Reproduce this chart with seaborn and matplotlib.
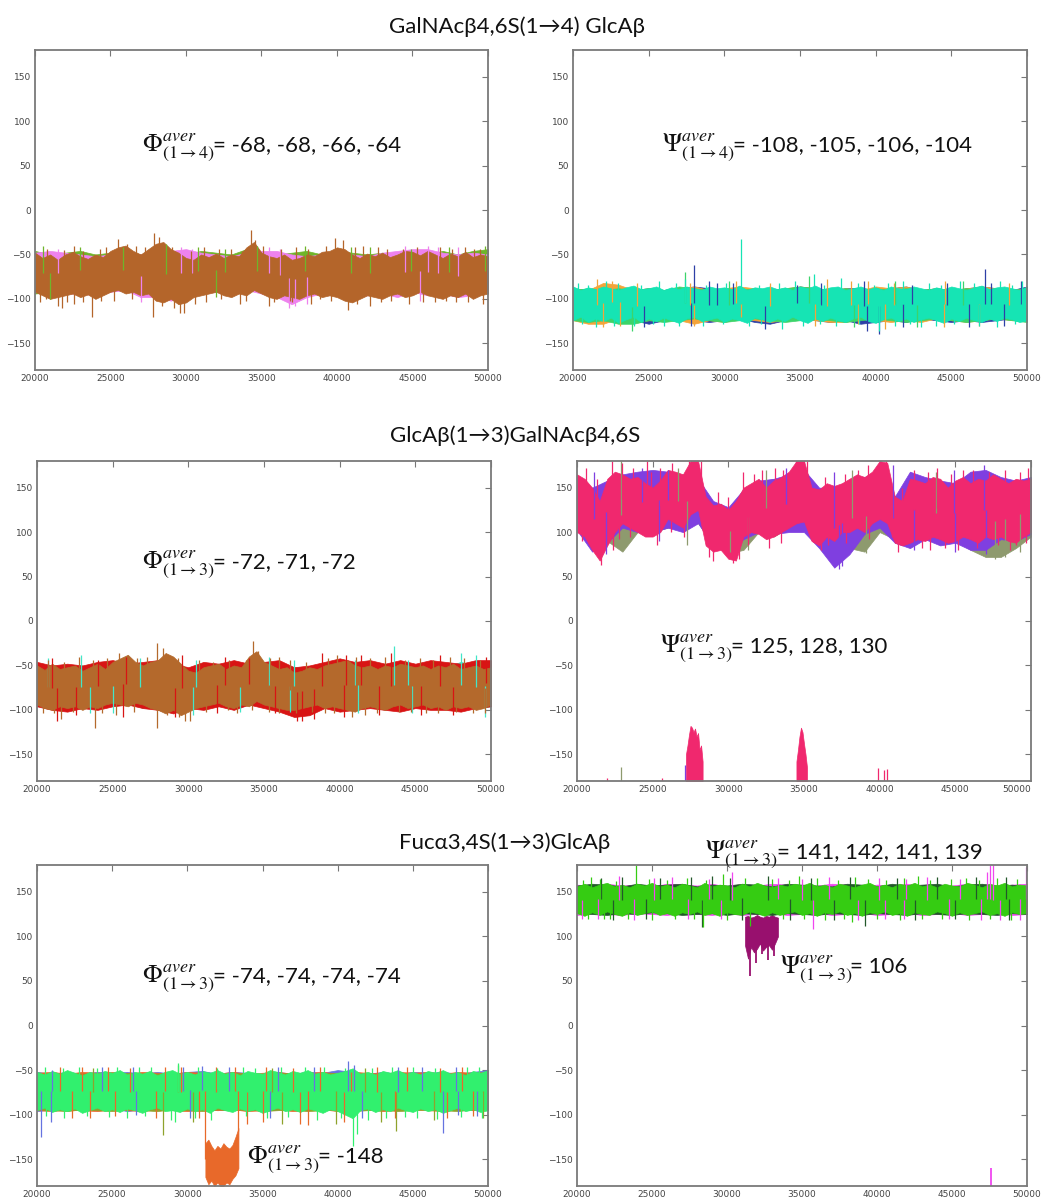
import numpy as np
import pandas as pd
import matplotlib
matplotlib.use("Agg")
import matplotlib.pyplot as plt
import seaborn as sns

# ---------------- data (dihedral angle in degrees vs. time step) ----------------
# coarse grid (under-lying trajectories)
T = [20000, 21000, 22000, 23000, 24000, 25000, 26000, 27000, 28000, 29000, 30000,
     31000, 32000, 33000, 34000, 35000, 36000, 37000, 38000, 39000, 40000,
     41000, 42000, 43000, 44000, 45000, 46000, 47000, 48000, 49000, 50000]
# fine grid (front trajectories)
T2 = [20000, 20500, 21000, 21500, 22000, 22500, 23000, 23500, 24000, 24500,
      25000, 25500, 26000, 26500, 27000, 27500, 28000, 28500, 29000, 29500,
      30000, 30500, 31000, 31500, 32000, 32500, 33000, 33500, 34000, 34500,
      35000, 35500, 36000, 36500, 37000, 37500, 38000, 38500, 39000, 39500,
      40000, 40500, 41000, 41500, 42000, 42500, 43000, 43500, 44000, 44500,
      45000, 45500, 46000, 46500, 47000, 47500, 48000, 48500, 49000, 49500, 50000]
XTICKS = [20000, 25000, 30000, 35000, 40000, 45000, 50000]
YTICKS = [-150, -100, -50, 0, 50, 100, 150]

TITLES = ["GalNAcβ4,6S(1→4) GlcAβ", "GlcAβ(1→3)GalNAcβ4,6S", "Fucα3,4S(1→3)GlcAβ"]
MATH = [r"$\Phi^{aver}_{(1\rightarrow4)}$", r"$\Psi^{aver}_{(1\rightarrow4)}$",
        r"$\Phi^{aver}_{(1\rightarrow3)}$", r"$\Psi^{aver}_{(1\rightarrow3)}$",
        r"$\Phi^{aver}_{(1\rightarrow3)}$", r"$\Phi^{aver}_{(1\rightarrow3)}$",
        r"$\Psi^{aver}_{(1\rightarrow3)}$", r"$\Psi^{aver}_{(1\rightarrow3)}$"]
VALUES = ["= -68, -68, -66, -64", "= -108, -105, -106, -104", "= -72, -71, -72",
          "= 125, 128, 130", "= -74, -74, -74, -74", "= -148",
          "= 141, 142, 141, 139", "= 106"]

# ---- panel 1 : Phi(1->4)
p1_violet_hi = [-48, -46, -48, -50, -52, -50, -48, -50, -46, -46, -44, -48, -50, -52, -48, -46, -46, -50, -52, -50, -48, -50, -52, -48, -46, -44, -44, -48, -50, -48, -50]
p1_violet_lo = [-92, -96, -94, -94, -96, -92, -90, -98, -98, -102, -96, -94, -92, -96, -90, -94, -98, -106, -98, -94, -94, -98, -96, -94, -98, -92, -96, -94, -98, -96, -92]
p1_green_hi = [-46, -50, -48, -46, -50, -48, -46, -50, -44, -50, -50, -46, -48, -50, -44, -48, -50, -48, -46, -50, -46, -48, -50, -48, -50, -48, -50, -46, -50, -46, -44]
p1_green_lo = [-94, -92, -92, -90, -92, -88, -88, -90, -94, -98, -92, -90, -88, -92, -88, -90, -92, -92, -90, -88, -90, -94, -92, -90, -94, -88, -92, -90, -94, -92, -94]
p1_brown_hi = [-48, -54, -50, -56, -50, -47, -52, -55, -50, -53,
               -46, -42, -40, -46, -50, -44, -38, -36, -44, -48,
               -54, -56, -50, -53, -49, -54, -50, -52, -42, -36,
               -48, -52, -54, -50, -56, -54, -50, -52, -47, -46,
               -42, -44, -50, -54, -49, -52, -48, -53, -50, -46,
               -47, -51, -46, -50, -54, -49, -52, -47, -53, -50, -52]
p1_brown_lo = [-92, -96, -100, -98, -96, -94, -98, -95, -100, -96,
               -92, -90, -94, -92, -96, -94, -102, -104, -100, -106,
               -104, -98, -96, -94, -92, -96, -98, -94, -96, -90,
               -94, -98, -100, -96, -98, -100, -96, -94, -98, -96,
               -98, -102, -104, -100, -96, -98, -100, -96, -94, -98,
               -96, -92, -96, -98, -100, -96, -98, -94, -100, -96, -94]
p1_violet_sx = [21500, 29700, 30400, 35500, 36200, 44500, 46000, 46700, 48000, 27000, 36800, 37200, 38000, 45500]
p1_violet_sy = [-44, -42, -44, -42, -44, -40, -40, -42, -42, -104, -110, -108, -106, -102]
p1_green_sx = [20500, 23000, 25800, 28700, 30800, 32600, 34700, 37900, 40900, 42200, 44900, 47400, 49800, 21000, 32000]
p1_green_sy = [-40, -42, -42, -38, -42, -44, -40, -40, -42, -42, -44, -42, -40, -100, -98]
p1_brown_sx = [22600, 24700, 25500, 26100, 27900, 28200, 31200, 33000, 34300, 34600, 37300, 39900, 40400, 42700, 44400, 46800, 49100,
               20800, 21900, 23200, 24300, 26700, 27300, 29100, 30300, 32200, 33700, 35100, 36300, 38100, 39300, 41200, 41700, 43300, 45300, 47600, 48500, 49500,
               20300, 21500, 21800, 22600, 23800, 25200, 27800, 29600, 29900, 31300, 33600, 35500, 37000, 38300, 40700, 42900, 44800, 46500, 47900, 49700,
               20700, 22100, 23200, 24400, 26400, 28400, 29200, 30600, 32300, 34000, 35800, 36900, 38900, 39600, 41300, 42200, 43600, 45700, 47200, 48700, 50000]
p1_brown_sy = [-40, -42, -33, -38, -26, -30, -42, -44, -22, -34, -42, -32, -34, -42, -44, -42, -44,
               -44, -45, -46, -44, -40, -42, -42, -46, -44, -46, -40, -44, -44, -40, -42, -40, -44, -42, -44, -42, -44,
               -104, -108, -110, -106, -120, -102, -120, -116, -116, -104, -106, -108, -104, -106, -112, -104, -106, -104, -104, -106,
               -100, -104, -104, -102, -100, -108, -110, -106, -100, -102, -104, -102, -100, -102, -106, -108, -102, -104, -102, -104, -100]

# ---- panel 2 : Psi(1->4)
p2_navy_hi = [-88, -90, -88, -86, -90, -88, -90, -88, -86, -88, -90, -88, -90, -88, -90, -86, -88, -90, -88, -88, -90, -88, -86, -90, -88, -90, -88, -86, -88, -90, -86]
p2_navy_lo = [-124, -122, -124, -126, -124, -128, -124, -122, -124, -126, -124, -122, -126, -128, -124, -122, -124, -126, -124, -128, -126, -124, -126, -122, -124, -126, -124, -126, -124, -122, -124]
p2_orange_hi = [-88, -90, -82, -84, -90, -88, -90, -88, -86, -90, -88, -86, -88, -90, -88, -86, -88, -90, -88, -90, -86, -88, -86, -90, -88, -90, -88, -86, -88, -90, -88]
p2_orange_lo = [-124, -128, -128, -122, -126, -124, -122, -124, -128, -124, -126, -122, -124, -126, -124, -122, -124, -126, -126, -122, -124, -126, -124, -126, -122, -124, -126, -124, -122, -124, -124]
p2_green_hi = [-90, -88, -90, -88, -90, -88, -90, -86, -88, -90, -88, -90, -88, -90, -88, -86, -88, -90, -88, -90, -88, -90, -88, -90, -88, -90, -88, -90, -88, -90, -88]
p2_green_lo = [-124, -126, -124, -128, -128, -124, -126, -124, -122, -124, -126, -124, -122, -124, -126, -124, -122, -124, -126, -124, -122, -124, -126, -124, -122, -124, -126, -124, -122, -124, -126]
p2_turq_hi = [-86, -90, -87, -89, -86, -88, -90, -87, -85, -89,
              -88, -86, -90, -87, -89, -86, -88, -90, -86, -88,
              -87, -89, -85, -90, -87, -88, -86, -89, -87, -90,
              -86, -88, -85, -89, -87, -86, -90, -88, -86, -89,
              -87, -90, -86, -88, -89, -86, -88, -90, -87, -89,
              -86, -88, -90, -87, -85, -89, -87, -86, -88, -90, -86]
p2_turq_lo = [-124, -120, -126, -122, -125, -121, -127, -123, -120, -126,
              -122, -125, -121, -124, -127, -122, -120, -125, -123, -121,
              -126, -122, -124, -127, -121, -123, -126, -122, -125, -120,
              -124, -127, -122, -125, -121, -124, -126, -122, -120, -125,
              -127, -123, -121, -125, -122, -126, -123, -121, -124, -127,
              -122, -125, -121, -124, -126, -122, -125, -121, -123, -126, -124]
p2_navy_sx = [28000, 29000, 29500, 30600, 34800, 36400, 39200, 42400, 44700, 47200, 47600, 49600, 24700, 27800, 32700, 39400, 40200, 41800, 46200, 48500]
p2_navy_sy = [-62, -80, -82, -82, -84, -82, -80, -84, -82, -66, -82, -80, -132, -130, -134, -136, -140, -132, -132, -130]
p2_orange_sx = [21600, 22600, 24200, 27700, 30800, 33000, 36800, 38400, 39500, 41200, 44600, 48800, 22000, 23100, 28000, 31100, 36000, 38800, 40600, 44500, 46800]
p2_orange_sy = [-78, -80, -82, -82, -80, -82, -78, -80, -80, -82, -80, -82, -132, -130, -130, -120, -130, -128, -134, -132, -130]
p2_green_sx = [27400, 30300, 35600, 41300, 45800, 23900, 38600, 42700]
p2_green_sy = [-70, -80, -74, -80, -80, -136, -132, -132]
p2_turq_sx = [31100, 35900, 37700, 27400, 41800, 49700, 22200, 45600, 21500, 26000, 33800, 40200, 43000, 48000,
              20300, 21000, 23000, 24500, 25700, 26800, 28800, 30100, 32300, 33600, 34700, 36600, 38800, 39900, 40800, 43500, 44300, 46500, 48200, 49000,
              20600, 22700, 24000, 25300, 27000, 28600, 29900, 31600, 32400, 35200, 36300, 37400, 38900, 41300, 42300, 44000, 45200, 46800, 49200]
p2_turq_sy = [-33, -72, -76, -78, -80, -80, -80, -80, -132, -130, -134, -136, -132, -132,
              -82, -84, -82, -84, -80, -82, -84, -82, -84, -82, -80, -84, -82, -84, -82, -82, -84, -82, -80, -84,
              -128, -130, -130, -128, -130, -130, -128, -130, -128, -130, -128, -130, -128, -130, -128, -130, -128, -130, -128]

# ---- panel 3 : Phi(1->3)
p3_turq_hi = [-50, -54, -52, -50, -54, -52, -50, -52, -48, -52, -54, -52, -48, -52, -50, -52, -50, -52, -52, -50, -52, -50, -52, -50, -46, -52, -50, -52, -46, -50, -48]
p3_turq_lo = [-96, -94, -96, -98, -96, -94, -92, -98, -96, -98, -94, -96, -92, -98, -94, -94, -96, -94, -98, -96, -96, -94, -96, -94, -98, -94, -96, -94, -98, -98, -96]
p3_red_hi = [-46, -50, -48, -50, -46, -44, -48, -46, -44, -48, -52, -46, -48, -44, -48, -46, -44, -52, -50, -46, -42, -46, -44, -48, -44, -48, -44, -46, -48, -44, -44]
p3_red_lo = [-96, -100, -102, -98, -100, -96, -94, -98, -100, -104, -98, -100, -96, -100, -94, -98, -102, -108, -106, -98, -102, -100, -98, -100, -102, -98, -100, -100, -102, -98, -96]
p3_brown_hi = [-50, -55, -48, -54, -52, -50, -56, -52, -48, -54,
               -46, -42, -38, -46, -50, -46, -44, -36, -40, -48,
               -56, -58, -52, -50, -48, -54, -50, -52, -40, -34,
               -46, -50, -54, -52, -58, -56, -52, -54, -50, -48,
               -46, -44, -50, -52, -50, -54, -50, -52, -48, -50,
               -52, -50, -54, -50, -52, -48, -54, -52, -50, -54, -52]
p3_brown_lo = [-94, -98, -100, -96, -98, -96, -100, -96, -98, -94,
               -92, -94, -96, -92, -94, -98, -100, -104, -100, -106,
               -102, -98, -96, -94, -92, -96, -98, -94, -96, -90,
               -94, -96, -98, -100, -100, -98, -96, -94, -98, -96,
               -98, -100, -102, -98, -96, -98, -100, -96, -94, -98,
               -96, -94, -98, -96, -100, -96, -98, -96, -100, -98, -94]
p3_turq_sx = [20700, 22900, 26800, 30500, 35300, 37000, 41000, 43600, 44500, 48000, 49000, 23500, 25000, 30300, 33400, 36700, 41200, 44800, 49600]
p3_turq_sy = [-42, -38, -42, -44, -40, -44, -44, -28, -44, -36, -38, -104, -104, -106, -102, -102, -104, -104, -108]
p3_red_sx = [21000, 24000, 25900, 29600, 32400, 34000, 38800, 40400, 41400, 43400, 46600, 49700,
             21300, 22600, 25700, 29100, 31900, 35700, 37200, 37500, 38300, 40300, 42600, 45400, 47500]
p3_red_sy = [-42, -44, -40, -38, -40, -42, -36, -38, -38, -36, -38, -40,
             -112, -106, -108, -108, -104, -104, -112, -113, -110, -108, -106, -106, -106]
p3_brown_sx = [22800, 25400, 26000, 27900, 28300, 30700, 34300, 34600, 36000, 39800, 43000, 47300,
               20700, 21800, 23700, 24600, 26600, 27300, 29300, 31600, 32700, 33800, 35400, 36700, 37800, 39200, 41100, 42000, 44300, 45300, 46200, 48200, 49300,
               20400, 21600, 23800, 25200, 27900, 29800, 30100, 33200, 36000, 39000, 40800, 43900, 46500, 48800,
               21100, 22400, 24300, 26400, 28600, 29400, 31200, 32600, 34200, 35300, 37100, 38200, 39600, 41700, 42500, 44700, 45700, 47700, 49600]
p3_brown_sy = [-40, -36, -40, -25, -30, -44, -22, -34, -40, -38, -40, -40,
               -44, -46, -44, -42, -42, -40, -42, -46, -44, -44, -42, -44, -46, -42, -40, -42, -44, -42, -44, -42, -44,
               -104, -110, -120, -106, -120, -112, -112, -104, -104, -104, -108, -102, -104, -104,
               -104, -102, -104, -102, -106, -108, -102, -100, -100, -102, -104, -102, -104, -106, -104, -102, -104, -102, -104]

# ---- panel 4 : Psi(1->3)
p4_olive_hi = [150, 140, 150, 160, 150, 148, 160, 165, 150, 130, 125, 145, 155, 160, 150, 155, 145, 145, 150, 155, 160, 140, 150, 152, 150, 150, 152, 150, 155, 155, 155]
p4_olive_lo = [105, 90, 90, 78, 100, 100, 105, 108, 110, 85, 76, 80, 100, 95, 105, 105, 92, 90, 82, 78, 100, 92, 90, 95, 92, 92, 80, 72, 72, 82, 95]
p4_purple_hi = [160, 150, 158, 165, 168, 170, 168, 162, 160, 135, 128, 148, 158, 160, 165, 170, 150, 150, 158, 162, 168, 140, 168, 162, 158, 155, 168, 170, 162, 158, 162]
p4_purple_lo = [102, 78, 88, 105, 100, 100, 105, 100, 110, 85, 80, 92, 100, 98, 100, 100, 82, 60, 75, 98, 105, 88, 82, 92, 85, 88, 80, 80, 92, 90, 98]
p4_pink_hi = [165, 160, 150, 135, 160, 168, 165, 160, 162, 155,
              150, 158, 170, 168, 165, 180, 180, 140, 130, 132,
              125, 135, 150, 155, 160, 150, 158, 162, 168, 180,
              180, 150, 148, 155, 152, 155, 160, 165, 162, 168,
              180, 178, 140, 135, 160, 158, 155, 162, 160, 150,
              158, 162, 155, 160, 158, 165, 160, 155, 160, 158, 160]
p4_pink_lo = [100, 95, 80, 68, 85, 100, 110, 105, 100, 95,
              95, 100, 115, 110, 105, 120, 125, 85, 78, 80,
              70, 68, 95, 100, 98, 92, 95, 100, 105, 110,
              112, 90, 85, 95, 90, 100, 100, 105, 100, 110,
              115, 110, 88, 85, 88, 92, 90, 95, 92, 88,
              90, 95, 92, 88, 95, 92, 95, 90, 88, 95, 100]
p4_olive_sx = [22900, 26700, 32500, 38200, 43700, 27300, 30100, 31300, 39100, 47600, 48300, 49300]
p4_olive_sy = [180, 172, 170, 170, 168, 85, 78, 80, 76, 70, 72, 78]
p4_purple_sx = [21100, 24300, 26000, 33800, 37000, 40900, 44900, 46900, 21900, 25400, 37300, 37500, 42300, 45000, 47000]
p4_purple_sy = [168, 172, 170, 172, 168, 175, 170, 175, 75, 90, 58, 62, 80, 78, 75]
p4_pink_sx = [20600, 22300, 23000, 24600, 25500, 26300, 27400, 27700, 28200, 31000, 33100, 34500, 34800, 35200, 38600, 39200, 40000, 40400, 43800, 45500, 48300,
              21300, 23700, 24900, 29300, 30000, 31700, 32200, 33600, 36400, 37700, 41500, 42300, 43200, 44700, 46200, 47200, 49300, 49800,
              21600, 22400, 28700, 30300, 30700, 36100, 41200, 42800, 44300, 49000,
              20300, 22800, 23500, 25300, 26200, 27100, 29000, 31300, 32700, 33500, 36600, 37800, 39300, 40800, 43300, 45200, 46400, 47800, 48600, 49700]
p4_pink_sy = [172, 180, 178, 180, 172, 178, 180, 180, 180, 168, 172, 180, 180, 180, 170, 175, 180, 180, 172, 170, 170,
              160, 172, 168, 145, 140, 165, 170, 170, 162, 165, 150, 170, 168, 165, 170, 168, 168, 172,
              63, 80, 72, 65, 70, 80, 78, 82, 82, 85,
              90, 92, 95, 85, 100, 95, 68, 85, 82, 88, 85, 88, 92, 95, 80, 80, 82, 85, 80, 88]
# wrapped excursions near -180 (tips)
p4_wrapA_x = [27200, 27300, 27400, 27500, 27600, 27700, 27800, 27900, 28000, 28100, 28200, 28300]
p4_wrapA_tip = [-150, -140, -128, -118, -120, -125, -121, -130, -126, -145, -140, -158]
p4_wrapB_x = [34500, 34600, 34700, 34800, 34900, 35000, 35100, 35200]
p4_wrapB_tip = [-158, -145, -130, -120, -125, -138, -150, -165]
p4_wrap_pink_sx = [22000, 25600, 39900, 40300, 40500]
p4_wrap_pink_sy = [-177, -177, -165, -168, -166]
p4_wrap_olive_sx = [22900]
p4_wrap_olive_sy = [-164]
p4_wrap_purple_sx = [27150]
p4_wrap_purple_sy = [-162]

# ---- panel 5 : Phi(1->3)
p5_blue_hi = [-52, -54, -52, -54, -52, -53, -52, -54, -52, -54, -52, -51, -54, -52, -53, -54, -52, -54, -52, -53, -50, -52, -54, -52, -54, -52, -53, -52, -54, -52, -50]
p5_blue_lo = [-96, -94, -93, -94, -95, -93, -96, -94, -93, -95, -94, -93, -95, -94, -93, -96, -94, -93, -95, -94, -93, -95, -94, -93, -95, -94, -93, -96, -94, -95, -94]
p5_orange_hi = [-53, -52, -54, -52, -53, -52, -54, -52, -53, -54, -52, -53, -54, -52, -54, -53, -52, -54, -53, -52, -54, -52, -53, -54, -52, -53, -52, -54, -52, -53, -52]
p5_orange_lo = [-95, -96, -94, -95, -96, -94, -95, -96, -94, -95, -96, -94, -95, -94, -96, -95, -94, -96, -95, -94, -96, -95, -94, -96, -95, -94, -95, -96, -94, -95, -94]
p5_olive_hi = [-54, -55, -53, -54, -55, -54, -53, -55, -54, -53, -55, -54, -55, -53, -54, -55, -54, -53, -55, -54, -53, -54, -55, -54, -53, -55, -54, -53, -55, -54, -53]
p5_olive_lo = [-94, -95, -96, -94, -95, -96, -94, -95, -96, -94, -95, -96, -94, -95, -94, -96, -95, -94, -96, -95, -94, -96, -95, -94, -96, -95, -94, -95, -96, -94, -95]
p5_green_hi = [-52, -55, -51, -54, -50, -53, -56, -52, -54, -51,
               -53, -50, -55, -52, -54, -51, -56, -52, -50, -54,
               -52, -55, -51, -53, -50, -54, -52, -56, -51, -53,
               -54, -50, -52, -55, -51, -53, -50, -54, -52, -55,
               -53, -51, -48, -54, -52, -55, -51, -53, -50, -54,
               -52, -55, -51, -53, -50, -54, -52, -56, -51, -53, -50]
p5_green_lo = [-95, -92, -97, -94, -96, -93, -98, -95, -92, -96,
               -94, -97, -93, -95, -98, -94, -92, -96, -95, -97,
               -93, -96, -94, -98, -92, -95, -97, -93, -96, -94,
               -98, -95, -92, -96, -94, -97, -93, -95, -98, -94,
               -96, -100, -104, -95, -93, -97, -94, -96, -92, -95,
               -97, -93, -96, -94, -98, -95, -92, -96, -94, -97, -95]
p5_exc_x = [31200, 31400, 31600, 31800, 32000, 32200, 32400, 32600, 32800, 33000, 33200, 33400]
p5_exc_hi = [-132, -128, -135, -140, -135, -138, -132, -136, -138, -134, -125, -115]
p5_exc_lo = [-170, -178, -174, -180, -176, -180, -180, -176, -178, -172, -168, -160]
p5_blue_sx = [21000, 24300, 26400, 29700, 31000, 32800, 36000, 38400, 40700, 41100, 44000, 45600, 47900, 50000,
              20250, 20900, 26600, 30200, 35500, 41600, 47000, 48000, 49300]
p5_blue_sy = [-50, -47, -46, -46, -45, -46, -47, -46, -40, -44, -46, -46, -46, -42,
              -125, -108, -100, -104, -104, -104, -120, -100, -102]
p5_orange_sx = [21500, 23000, 24700, 26200, 28500, 29600, 31900, 33200, 35200, 37000, 38800, 40900, 42600, 44600, 46800, 48300,
                22300, 23500, 25200, 27900, 30800, 34000, 35000, 37500, 38000, 40400, 43800, 47300, 49000, 31150, 33400]
p5_orange_sy = [-46, -47, -46, -48, -46, -46, -47, -46, -47, -48, -47, -52, -47, -47, -48, -46,
                -104, -104, -102, -104, -104, -110, -108, -110, -112, -108, -104, -104, -102, -150, -118]
p5_olive_sx = [23700, 29400, 35600, 41800, 28400, 30400, 36300, 39900, 42900, 43900, 46400, 49700]
p5_olive_sy = [-48, -44, -48, -48, -123, -108, -110, -110, -108, -118, -106, -104]
p5_green_sx = [29400, 40500, 29200, 31600, 41000, 41300, 45300,
               20500, 21700, 22800, 24000, 25300, 26800, 27600, 30700, 32000, 33700, 34500, 36200, 37800, 39100, 42300, 43600, 45000, 46500, 48600, 49400,
               20600, 21800, 23300, 24800, 26000, 27200, 28900, 30500, 33900, 35300, 36700, 38600, 40200, 42000, 43200, 44500, 46600, 48200, 49600]
p5_green_sy = [-42, -48, -108, -106, -135, -122, -104,
               -46, -48, -46, -48, -46, -47, -46, -46, -48, -46, -48, -46, -47, -46, -48, -46, -47, -48, -46, -47,
               -102, -104, -102, -103, -104, -102, -106, -104, -102, -104, -103, -106, -104, -106, -104, -103, -105, -103, -104]

# ---- panel 6 : Psi(1->3)
p6_magenta_hi = [158, 156, 159, 157, 158, 156, 159, 158, 157, 159, 156, 158, 157, 159, 158, 156, 157, 159, 158, 156, 158, 157, 159, 156, 158, 157, 159, 158, 156, 158, 159]
p6_magenta_lo = [124, 126, 125, 124, 126, 125, 124, 126, 125, 124, 126, 124, 125, 126, 124, 125, 126, 124, 125, 126, 124, 125, 126, 124, 125, 126, 124, 125, 126, 124, 125]
p6_dkgreen_hi = [157, 159, 158, 156, 159, 157, 158, 159, 156, 158, 157, 159, 158, 156, 159, 158, 157, 156, 159, 158, 156, 159, 157, 158, 159, 156, 158, 159, 157, 158, 156]
p6_dkgreen_lo = [126, 125, 124, 126, 125, 127, 126, 124, 125, 126, 124, 126, 125, 124, 126, 125, 124, 126, 125, 124, 126, 125, 124, 126, 125, 124, 126, 125, 124, 126, 125]
p6_green_hi = [156, 159, 155, 158, 160, 156, 158, 155, 159, 157,
               160, 156, 158, 155, 159, 157, 155, 160, 156, 158,
               157, 155, 159, 156, 160, 157, 155, 158, 156, 159,
               157, 160, 156, 158, 155, 159, 157, 155, 158, 160,
               156, 158, 155, 159, 157, 160, 156, 158, 155, 159,
               157, 156, 160, 158, 155, 159, 157, 160, 156, 158, 157]
p6_green_lo = [126, 123, 127, 124, 128, 125, 123, 127, 124, 126,
               128, 124, 126, 123, 127, 125, 128, 124, 126, 123,
               127, 125, 124, 128, 126, 123, 127, 124, 126, 128,
               124, 126, 123, 127, 125, 128, 124, 126, 123, 127,
               125, 128, 124, 126, 123, 127, 125, 124, 128, 126,
               123, 127, 124, 126, 128, 124, 126, 123, 127, 125, 126]
p6_exc_x = [31200, 31400, 31600, 31800, 32000, 32200, 32400, 32600, 32800, 33000, 33200, 33400]
p6_exc_hi = [122, 123, 121, 122, 124, 122, 121, 123, 122, 124, 122, 121]
p6_exc_lo = [90, 75, 88, 82, 86, 92, 84, 88, 90, 85, 92, 100]
p6_exc_sx = [31550, 31900, 32300, 32750, 33100]
p6_exc_sy = [56, 70, 80, 73, 78]
p6_magenta_sx = [22800, 25100, 26300, 28800, 30300, 33400, 35000, 36800, 40100, 41900, 43300, 45500, 47300, 47500, 47700, 49900,
                 20300, 21400, 23800, 27400, 29600, 35700, 38700, 40500, 41800, 44800, 46900, 48200, 49500]
p6_magenta_sy = [168, 165, 166, 164, 172, 165, 164, 166, 165, 164, 166, 164, 172, 180, 180, 178,
                 120, 119, 118, 120, 120, 108, 118, 119, 120, 120, 118, 118, 118]
p6_wrap_magenta_sx = [47600]
p6_wrap_magenta_sy = [-160]
p6_dkgreen_sx = [21600, 23000, 25500, 27600, 29000, 30200, 32700, 35600, 38200, 41300, 44000, 46600, 48600,
                 22400, 24600, 28300, 31000, 34200, 37100, 39200, 42500, 45200, 48800]
p6_dkgreen_sy = [165, 166, 165, 166, 168, 165, 168, 165, 166, 165, 166, 167, 166,
                 118, 120, 110, 118, 118, 118, 112, 118, 120, 118]
p6_green_sx = [23900, 20900, 29700, 34800, 38500, 42700, 45900, 21800, 28400, 31500, 38300, 46100,
               20400, 21500, 22600, 24800, 26000, 27300, 28600, 31200, 33000, 34100, 36000, 37400, 39400, 40600, 41800, 43500, 44900, 46800, 48000, 49300,
               20700, 22200, 23400, 25000, 26500, 27800, 30000, 33700, 35100, 36500, 37800, 40000, 41500, 43000, 44300, 47500, 48900]
p6_green_sy = [180, 166, 170, 168, 166, 168, 165, 120, 110, 112, 116, 118,
               163, 164, 162, 164, 163, 165, 163, 165, 164, 163, 165, 163, 164, 163, 165, 163, 164, 163, 165, 164,
               120, 119, 120, 118, 120, 119, 118, 120, 119, 118, 120, 119, 118, 120, 119, 120, 118]

# ---------------- style ----------------
sns.set_style("white")
plt.rcParams["font.family"] = ["Lato", "DejaVu Sans"]
plt.rcParams["mathtext.fontset"] = "stix"

W, H = 1042, 1198
fig = plt.figure(figsize=(W / 100, H / 100), dpi=100)


def ax_at(l, t, r, b):
    return fig.add_axes([l / W, 1 - b / H, (r - l) / W, (b - t) / H])


axes = [ax_at(35, 50, 488, 370), ax_at(573, 50, 1027, 370),
        ax_at(37, 461, 491, 781), ax_at(577, 461, 1031, 781),
        ax_at(37, 865, 488, 1186), ax_at(577, 865, 1027, 1186)]


def band(ax, x, hi, lo, color):
    df = pd.DataFrame({"x": list(x) + list(x), "y": list(hi) + list(lo)})
    sns.lineplot(data=df, x="x", y="y", errorbar=("pi", 100), color=color,
                 linewidth=0, err_kws={"alpha": 1, "linewidth": 0.5, "edgecolor": color},
                 ax=ax, legend=False)


def spikes(ax, sx, sy, color, x=None, hi=None, lo=None, base=None, lw=0.9):
    if base is None:
        mid = (np.asarray(hi, float) + np.asarray(lo, float)) / 2
        b = np.interp(sx, x, mid)
    else:
        b = np.full(len(sx), base, float)
    ax.vlines(sx, b, sy, colors=color, linewidth=lw)


def trace(ax, color, x, hi, lo, sx, sy):
    band(ax, x, hi, lo, color)
    spikes(ax, sx, sy, color, x, hi, lo)


# panel 1
a = axes[0]
trace(a, "#6fb52a", T, p1_green_hi, p1_green_lo, p1_green_sx, p1_green_sy)
trace(a, "#ee82ee", T, p1_violet_hi, p1_violet_lo, p1_violet_sx, p1_violet_sy)
trace(a, "#b4652a", T2, p1_brown_hi, p1_brown_lo, p1_brown_sx, p1_brown_sy)
# panel 2
a = axes[1]
trace(a, "#2e3fa6", T, p2_navy_hi, p2_navy_lo, p2_navy_sx, p2_navy_sy)
trace(a, "#f4a43a", T, p2_orange_hi, p2_orange_lo, p2_orange_sx, p2_orange_sy)
trace(a, "#3cd46a", T, p2_green_hi, p2_green_lo, p2_green_sx, p2_green_sy)
trace(a, "#16e4b4", T2, p2_turq_hi, p2_turq_lo, p2_turq_sx, p2_turq_sy)
# panel 3
a = axes[2]
trace(a, "#42e6c8", T, p3_turq_hi, p3_turq_lo, p3_turq_sx, p3_turq_sy)
trace(a, "#d81414", T, p3_red_hi, p3_red_lo, p3_red_sx, p3_red_sy)
trace(a, "#b4692c", T2, p3_brown_hi, p3_brown_lo, p3_brown_sx, p3_brown_sy)
# panel 4
a = axes[3]
trace(a, "#8e9a6e", T, p4_olive_hi, p4_olive_lo, p4_olive_sx, p4_olive_sy)
spikes(a, p4_wrap_olive_sx, p4_wrap_olive_sy, "#8e9a6e", base=-180)
trace(a, "#7f3fe0", T, p4_purple_hi, p4_purple_lo, p4_purple_sx, p4_purple_sy)
spikes(a, p4_wrap_purple_sx, p4_wrap_purple_sy, "#7f3fe0", base=-180)
trace(a, "#f0286e", T2, p4_pink_hi, p4_pink_lo, p4_pink_sx, p4_pink_sy)
band(a, p4_wrapA_x, p4_wrapA_tip, [-180] * len(p4_wrapA_x), "#f0286e")
band(a, p4_wrapB_x, p4_wrapB_tip, [-180] * len(p4_wrapB_x), "#f0286e")
spikes(a, p4_wrap_pink_sx, p4_wrap_pink_sy, "#f0286e", base=-180)
# panel 5
a = axes[4]
trace(a, "#6673e0", T, p5_blue_hi, p5_blue_lo, p5_blue_sx, p5_blue_sy)
trace(a, "#e8692a", T, p5_orange_hi, p5_orange_lo, p5_orange_sx, p5_orange_sy)
band(a, p5_exc_x, p5_exc_hi, p5_exc_lo, "#e8692a")
trace(a, "#8fa22c", T, p5_olive_hi, p5_olive_lo, p5_olive_sx, p5_olive_sy)
trace(a, "#31f06e", T2, p5_green_hi, p5_green_lo, p5_green_sx, p5_green_sy)
# panel 6
a = axes[5]
band(a, p6_exc_x, p6_exc_hi, p6_exc_lo, "#98106e")
spikes(a, p6_exc_sx, p6_exc_sy, "#98106e", p6_exc_x, p6_exc_hi, p6_exc_lo, lw=1.3)
trace(a, "#f046f0", T, p6_magenta_hi, p6_magenta_lo, p6_magenta_sx, p6_magenta_sy)
spikes(a, p6_wrap_magenta_sx, p6_wrap_magenta_sy, "#f046f0", base=-180, lw=1.3)
trace(a, "#23582a", T, p6_dkgreen_hi, p6_dkgreen_lo, p6_dkgreen_sx, p6_dkgreen_sy)
trace(a, "#35cc12", T2, p6_green_hi, p6_green_lo, p6_green_sx, p6_green_sy)

for i, a in enumerate(axes):
    a.set_xlim(20000, 50000)
    a.set_ylim(-180, 180)
    a.set_xticks(XTICKS)
    a.set_yticks(YTICKS)
    a.set_xlabel("")
    a.set_ylabel("")
    a.tick_params(direction="in", length=4, width=0.8, color="#777777",
                  top=True, right=True, labelsize=6.5, labelcolor="#444444",
                  labelfontfamily="DejaVu Sans", pad=3)
    for s in a.spines.values():
        s.set_visible(True)
        s.set_color("#7a7a7a")
        s.set_linewidth(1.3)
axes[3].get_xticklabels()[-1].set_horizontalalignment("right")

# titles
for (cx, by), s in zip([(517, 33), (515, 442), (505, 849)], TITLES):
    fig.text(cx / W, 1 - by / H, s, ha="center", va="baseline", fontsize=16, color="#111111")

# annotations: math symbol part and value part
POS = [(142, 213, 151), (662, 733, 151), (142, 213, 568), (660, 731, 652),
       (142, 213, 982), (247, 318, 1163), (705, 777, 858), (780, 850, 973)]
for (mx, vx, by), m, v in zip(POS, MATH, VALUES):
    fig.text(mx / W, 1 - by / H, m, ha="left", va="baseline", fontsize=18.5, color="#111111")
    fig.text(vx / W, 1 - by / H, v, ha="left", va="baseline", fontsize=16, color="#111111")

fig.savefig("out.png", dpi=100)
